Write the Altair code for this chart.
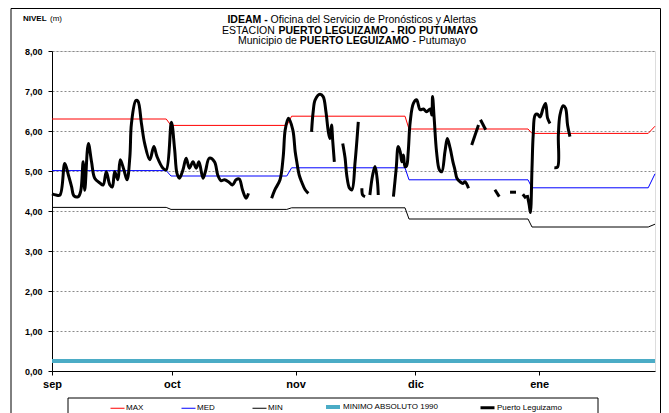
import altair as alt
import pandas as pd

FONT = "Liberation Sans, Arial, sans-serif"

# x axis: days counted from 1 September
month_days = [0, 30, 61, 91, 122]
month_labels = ["sep", "oct", "nov", "dic", "ene"]
x_domain = [0, 151]
y_ticks = [0, 1, 2, 3, 4, 5, 6, 7, 8]

series_names = ["MAX", "MED", "MIN", "MINIMO ABSOLUTO 1990", "Puerto Leguizamo"]
series_colors = ["#FF0000", "#0000FF", "#000000", "#4BACC6", "#000000"]
series_widths = [1, 1, 1, 4, 3]

# monthly reference levels (step lines)
step_days = [0, 28.6, 29.8, 58.8, 60.0, 88.4, 89.4, 119.2, 120.2, 149.3, 151]
max_vals = [6.30, 6.30, 6.14, 6.14, 6.37, 6.37, 6.05, 6.05, 5.94, 5.94, 6.12]
med_vals = [5.01, 5.01, 4.875, 4.875, 5.08, 5.08, 4.78, 4.78, 4.58, 4.58, 4.93]
min_vals = [4.09, 4.09, 4.04, 4.04, 4.08, 4.08, 3.80, 3.80, 3.60, 3.60, 3.67]
minabs_days = [0, 151]
minabs_vals = [0.25, 0.25]

# observed level, Puerto Leguizamo (None = gap)
obs_days = [
    0, 1, 2, 3.2, 4.1, 4.9, 5.5, 6.6, 7.2, 7.8, 8.2, 9.1, 9.9, 10.7, 12.0, 12.8,
    13.6, 14.5, 15.1, 15.7, 16.5, 17.1, 18.0, 18.8, 19.5, 19.9, 21.0, 21.5, 22.4,
    23.2, 24.5, 25.5, 26.3, 27.8, 28.6, 29.9, 30.7, 31.3, 31.9, 32.8, 33.6, 34.4,
    35.3, 36.1, 36.8, 37.8, 38.4, 39.4, 40.7, 41.5, 42.3, 43.2, 44.2, 45.2, 46.1,
    46.9, 47.7, 48.6, 49.2,
    None,
    55.0, 55.8, 57.1, 57.9, 58.4, 59.2, 60.3, 60.9, 61.3, 61.9, 62.5, 63.4, 64.2,
    None,
    65.0, 65.4, 65.9, 67.1, 67.9, 68.6, 69.2, 69.6, 70.0, 70.3, 70.7,
    None,
    72.8, 73.4, 73.8, 74.5, 75.1, 75.9, 76.7,
    None,
    77.6, 77.8, 78.4,
    None,
    79.6, 80.3, 80.9, 81.5, 81.7,
    None,
    85.5, 86.2, 86.7, 87.2, 87.6, 88.0, 88.4, 88.8, 89.2, 89.7, 90.5, 91.3, 92.2,
    93.0, 93.8, 94.7, 95.1, 95.3, 95.7, 96.3, 97.0, 97.6, 98.4, 99.0, 99.7, 100.4,
    100.9, 101.4, 102.2, 102.9, 103.4, 104.3,
    None,
    105.1, 106.8,
    None,
    107.3, 108.6,
    None,
    110.9, 112.0,
    None,
    114.7, 116.2,
    None,
    117.9, 118.7,
    None,
    119.0, 119.5, 119.8, 120.2, 120.5, 121.0, 121.6, 122.2, 123.0, 123.6, 124.1, 124.7,
    None,
    125.8, 126.6, 126.8, 127.2, 128.0, 128.6, 129.1, 129.7,
]
obs_vals = [
    4.43, 4.40, 4.40, 5.19, 4.90, 4.61, 4.38, 4.36, 4.50, 5.23, 4.52, 5.69, 5.23, 4.82, 4.70, 4.65,
    4.98, 4.65, 4.60, 4.98, 4.78, 5.28, 5.03, 4.78, 5.36, 6.19, 6.76, 6.75, 6.19,
    5.69, 5.28, 5.61, 5.36, 5.07, 5.03, 6.22, 5.55, 4.94, 4.82, 5.03, 5.32, 5.07,
    5.23, 5.07, 5.23, 4.82, 4.98, 5.32, 5.23, 4.90, 4.76, 4.78, 4.73, 4.65, 4.78,
    4.80, 4.53, 4.32, 4.44,
    None,
    4.32, 4.53, 4.78, 5.36, 6.03, 6.32, 6.03, 5.48, 5.23, 4.90, 4.73, 4.53, 4.44,
    None,
    5.98, 6.48, 6.78, 6.92, 6.86, 6.48, 5.98, 5.81, 6.15, 5.75, 5.23,
    None,
    5.69, 5.32, 4.90, 4.57, 4.53, 5.23, 6.23,
    None,
    4.57, 4.40, 4.36,
    None,
    4.40, 4.90, 5.11, 4.73, 4.40,
    None,
    4.36, 5.07, 5.61, 5.48, 5.23, 5.40, 5.11, 5.13, 5.48, 6.23, 6.69, 6.78, 6.53,
    6.55, 6.48, 6.55, 6.40, 6.86, 6.32, 5.48, 5.03, 4.98, 5.48, 5.81, 5.57, 5.23,
    5.03, 4.82, 4.73, 4.69, 4.73, 4.57,
    None,
    5.65, 6.15,
    None,
    6.28, 6.03,
    None,
    4.53, 4.36,
    None,
    4.47, 4.47,
    None,
    4.42, 4.32,
    None,
    4.40, 4.15, 3.96, 5.07, 5.90, 6.40, 6.42, 6.35, 6.57, 6.69, 6.32, 6.19,
    None,
    5.08, 5.10, 5.90, 6.40, 6.63, 6.57, 6.15, 5.86,
]

# title lines: (text, bold) pieces
title_lines = [
    [("IDEAM -", True), ("Oficina del Servicio de Pronósticos y Alertas", False)],
    [("ESTACION", False), ("PUERTO LEGUIZAMO -  RIO PUTUMAYO", True)],
    [("Municipio de", False), ("PUERTO LEGUIZAMO", True), ("- Putumayo", False)],
]

# ---- build tables ----
ref_rows = []
for name, vals in (("MAX", max_vals), ("MED", med_vals), ("MIN", min_vals)):
    for d, v in zip(step_days, vals):
        ref_rows.append({"dia": d, "nivel": v, "serie": name})
for d, v in zip(minabs_days, minabs_vals):
    ref_rows.append({"dia": d, "nivel": v, "serie": "MINIMO ABSOLUTO 1990"})
ref_df = pd.DataFrame(ref_rows)

obs_rows = []
seg = 0
for d, v in zip(obs_days, obs_vals):
    if v is None:
        seg += 1
        continue
    obs_rows.append({"dia": d, "nivel": v, "serie": "Puerto Leguizamo", "tramo": seg})
obs_df = pd.DataFrame(obs_rows)

label_expr = " : ".join(
    f"datum.value == {d} ? '{l}'" for d, l in zip(month_days, month_labels)
) + " : ''"

x_enc = alt.X(
    "dia:Q",
    scale=alt.Scale(domain=x_domain, nice=False, zero=False),
    axis=alt.Axis(values=month_days, labelExpr=label_expr, title=None, grid=False,
                  domainColor="black", tickColor="black", tickSize=4, labelFlush=False,
                  labelFontSize=11, labelFontWeight="bold", labelPadding=3,
                  labelColor="black", labelFont=FONT),
)
y_enc = alt.Y(
    "nivel:Q",
    scale=alt.Scale(domain=[0, 8], nice=False),
    axis=alt.Axis(values=y_ticks, labelExpr="replace(format(datum.value, '.2f'), '.', ',')",
                  title=None, grid=True, gridColor="#8a8a8a", gridDash=[2, 2],
                  domainColor="black", tickColor="black", tickSize=4,
                  labelFontSize=9, labelFontWeight="bold", labelPadding=6,
                  labelColor="black", labelFont=FONT),
)
legend = alt.Legend(orient="none", legendX=58, legendY=347, direction="horizontal",
                    title=None, symbolType="stroke", symbolSize=196, labelFontSize=8,
                    labelFont=FONT, labelColor="black", columnPadding=35,
                    labelOffset=1, padding=0)
color_enc = alt.Color("serie:N", scale=alt.Scale(domain=series_names, range=series_colors),
                      legend=legend)
sw_enc = alt.StrokeWidth("serie:N",
                         scale=alt.Scale(type="ordinal", domain=series_names, range=series_widths),
                         legend=legend)

ref_layer = alt.Chart(ref_df).mark_line().encode(
    x=x_enc, y=y_enc, color=color_enc, strokeWidth=sw_enc
)
obs_layer = alt.Chart(obs_df).mark_line(interpolate="catmull-rom").encode(
    x=x_enc, y=y_enc, color=color_enc, strokeWidth=sw_enc, detail="tramo:N"
)

# approximate Arial / Liberation Sans advance widths (per 1000 em)
REG = {" ": 278, "-": 333, "(": 333, ")": 333, "ó": 556, "A": 667, "C": 722, "D": 722,
       "E": 667, "G": 778, "I": 278, "L": 556, "M": 833, "N": 722, "O": 778, "P": 667,
       "R": 722, "S": 667, "T": 611, "U": 722, "Y": 667, "Z": 611,
       "a": 556, "c": 500, "d": 556, "e": 556, "f": 278, "i": 222, "l": 222, "m": 833,
       "n": 556, "o": 556, "p": 556, "r": 333, "s": 500, "t": 278, "u": 556, "v": 500,
       "y": 500}
BOLD = {" ": 278, "-": 333, "A": 722, "D": 722, "E": 667, "G": 778, "I": 278, "L": 611,
        "M": 833, "O": 778, "P": 667, "R": 722, "T": 611, "U": 722, "Y": 667, "Z": 611}


def text_width(s, bold, size):
    table = BOLD if bold else REG
    return sum(table.get(ch, 556) for ch in s) * size / 1000.0


def txt(s, x, y, align, bold=False, size=10):
    return alt.Chart(pd.DataFrame({"t": [s]})).mark_text(
        align=align, baseline="middle", fontSize=size,
        fontWeight="bold" if bold else "normal", font=FONT, color="black"
    ).encode(text="t:N", x=alt.value(x), y=alt.value(y))


TITLE_SIZE = 10.5
title_cx = 300  # relative to plot left edge
title_ys = [-31, -20.5, -10]
texts = [
    txt("NIVEL", -29, -32, "left", True, 8),
    txt("(m)", -2, -32, "left", False, 8),
]
space_w = 278 * TITLE_SIZE / 1000.0
for parts, ty in zip(title_lines, title_ys):
    widths = [text_width(s, b, TITLE_SIZE) for s, b in parts]
    total = sum(widths) + space_w * (len(parts) - 1)
    cur = title_cx - total / 2
    for (s, b), w in zip(parts, widths):
        texts.append(txt(s, cur, ty, "left", b, TITLE_SIZE))
        cur += w + space_w

frame = alt.Chart(pd.DataFrame({"k": [0]})).mark_rect(
    fillOpacity=0, stroke="black", strokeWidth=1
).encode(x=alt.value(-41), x2=alt.value(608.5), y=alt.value(-42.5), y2=alt.value(400))

legend_box = alt.Chart(pd.DataFrame({"k": [0]})).mark_rect(
    fillOpacity=0, stroke="black", strokeWidth=1
).encode(x=alt.value(16), x2=alt.value(546), y=alt.value(347), y2=alt.value(400))

chart = alt.layer(ref_layer, obs_layer, frame, legend_box, *texts).properties(
    width=603, height=320,
    autosize=alt.AutoSizeParams(type="none"),
    padding={"left": 44, "top": 43, "right": 6, "bottom": 42},
).configure_view(stroke="#8a8a8a", strokeWidth=1).configure(
    background="white", font=FONT
)

chart.save("out.html", embed_options={"renderer": "svg", "actions": False})
